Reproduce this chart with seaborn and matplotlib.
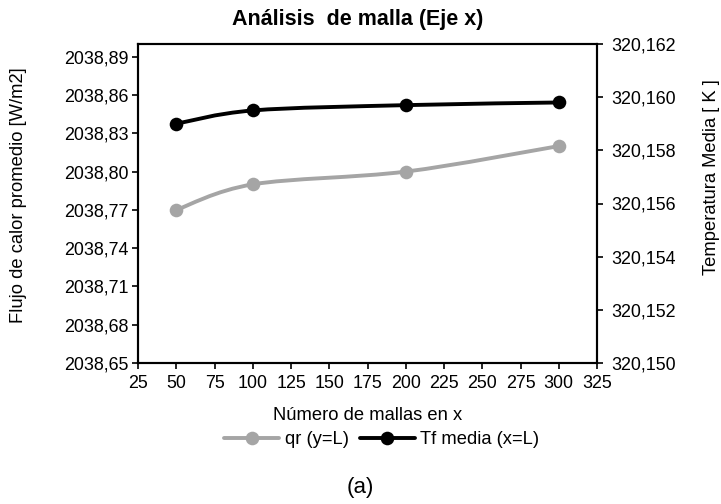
import numpy as np
import pandas as pd
import seaborn as sns
import matplotlib
matplotlib.use("Agg")
import matplotlib.pyplot as plt
from matplotlib.path import Path
from matplotlib.patches import PathPatch
from matplotlib.lines import Line2D
from matplotlib.ticker import FuncFormatter, FixedLocator

# ---- data ----
mallas = [50, 100, 200, 300]
qr_vals = [2038.77, 2038.79, 2038.80, 2038.82]
tf_vals = [320.1590, 320.1595, 320.1597, 320.1598]
x_ticks = [25, 50, 75, 100, 125, 150, 175, 200, 225, 250, 275, 300, 325]
left_ticks = [2038.65, 2038.68, 2038.71, 2038.74, 2038.77, 2038.80, 2038.83, 2038.86, 2038.89]
right_ticks = [320.150, 320.152, 320.154, 320.156, 320.158, 320.160, 320.162]
series_names = ["qr (y=L)", "Tf media (x=L)"]
title = "Análisis  de malla (Eje x)"
xlabel = "Número de mallas en x"
ylabel_left = "Flujo de calor promedio [W/m2]"
ylabel_right = "Temperatura Media [ K ]"
caption = "(a)"

df_qr = pd.DataFrame({"x": mallas, "y": qr_vals})
df_tf = pd.DataFrame({"x": mallas, "y": tf_vals})

sns.set_theme(style="white")
plt.rcParams["font.family"] = ["Liberation Sans", "DejaVu Sans"]
plt.rcParams["text.color"] = "black"
plt.rcParams["axes.labelcolor"] = "black"
plt.rcParams["xtick.color"] = "black"
plt.rcParams["ytick.color"] = "black"

GREY = "#A5A5A5"
BLACK = "#000000"
FS = 12.9
LFS = 13.2

fig = plt.figure(figsize=(7.21, 5.04), dpi=100)
W, H = 721, 504
L, R, T, B = 138, 597, 44, 363
ax = fig.add_axes([L / W, 1 - B / H, (R - L) / W, (B - T) / H])
ax2 = ax.twinx()


def smooth_path(xs, ys):
    xs = list(xs); ys = list(ys)
    n = len(xs)
    verts = [(xs[0], ys[0])]
    codes = [Path.MOVETO]
    for i in range(n - 1):
        xm = xs[i - 1] if i > 0 else xs[i]
        ym = ys[i - 1] if i > 0 else ys[i]
        xp = xs[i + 2] if i + 2 < n else xs[i + 1]
        yp = ys[i + 2] if i + 2 < n else ys[i + 1]
        c1 = (xs[i] + (xs[i + 1] - xm) / 6, ys[i] + (ys[i + 1] - ym) / 6)
        c2 = (xs[i + 1] - (xp - xs[i]) / 6, ys[i + 1] - (yp - ys[i]) / 6)
        verts += [c1, c2, (xs[i + 1], ys[i + 1])]
        codes += [Path.CURVE4] * 3
    return Path(verts, codes)


lw = 2.8
ms = 9.8
ax.add_patch(PathPatch(smooth_path(df_qr.x, df_qr.y), fill=False, edgecolor=GREY, lw=lw, zorder=3))
sns.scatterplot(data=df_qr, x="x", y="y", ax=ax, color=GREY, s=ms ** 2, edgecolor=GREY, linewidth=0, zorder=4)
ax2.add_patch(PathPatch(smooth_path(df_tf.x, df_tf.y), fill=False, edgecolor=BLACK, lw=lw, zorder=3))
sns.scatterplot(data=df_tf, x="x", y="y", ax=ax2, color=BLACK, s=ms ** 2, edgecolor=BLACK, linewidth=0, zorder=4)

ax.set_xlim(25, 325)
ax.set_ylim(2038.65, 2038.90)
ax2.set_ylim(320.150, 320.162)
ax.xaxis.set_major_locator(FixedLocator(x_ticks))
ax.yaxis.set_major_locator(FixedLocator(left_ticks))
ax2.yaxis.set_major_locator(FixedLocator(right_ticks))
ax.yaxis.set_major_formatter(FuncFormatter(lambda v, p: f"{v:.2f}".replace(".", ",")))
ax2.yaxis.set_major_formatter(FuncFormatter(lambda v, p: f"{v:.3f}".replace(".", ",")))
ax.xaxis.set_major_formatter(FuncFormatter(lambda v, p: f"{v:.0f}"))

for a in (ax, ax2):
    a.set_xlabel("")
    a.set_ylabel("")
    for s in a.spines.values():
        s.set_color("black")
        s.set_linewidth(1.5)
    a.tick_params(axis="both", direction="out", length=4, width=1.2, color="black",
                  labelsize=FS, labelcolor="black", pad=4)
ax.tick_params(axis="x", bottom=True, pad=5)
ax.tick_params(axis="y", left=True, pad=3)
ax2.tick_params(axis="y", right=True, pad=6)
ax.set_facecolor("white")

fig.text(357.5 / W, 1 - 20 / H, title, ha="center", va="center", fontsize=15.5,
         fontweight="bold", color="black")
fig.text(368 / W, 1 - 416 / H, xlabel, ha="center", va="center", fontsize=LFS, color="black")
fig.text(19 / W, 1 - 195 / H, ylabel_left, ha="center", va="center", rotation=90,
         fontsize=LFS, color="black")
fig.text(712 / W, 1 - 177 / H, ylabel_right, ha="center", va="center", rotation=90,
         fontsize=LFS, color="black")
fig.text(360 / W, 1 - 487 / H, caption, ha="center", va="center", fontsize=16, color="black")

handles = [
    Line2D([], [], color=GREY, lw=lw, marker="o", markersize=ms, markeredgewidth=0),
    Line2D([], [], color=BLACK, lw=lw, marker="o", markersize=ms, markeredgewidth=0),
]
fig.legend(handles, series_names, loc="center", bbox_to_anchor=(382 / W, 1 - 440 / H),
           ncol=2, frameon=False, fontsize=LFS, handlelength=3.0, handletextpad=0.3,
           columnspacing=0.6, borderpad=0, labelcolor="black")

fig.savefig("out.png", dpi=100, facecolor="white")
